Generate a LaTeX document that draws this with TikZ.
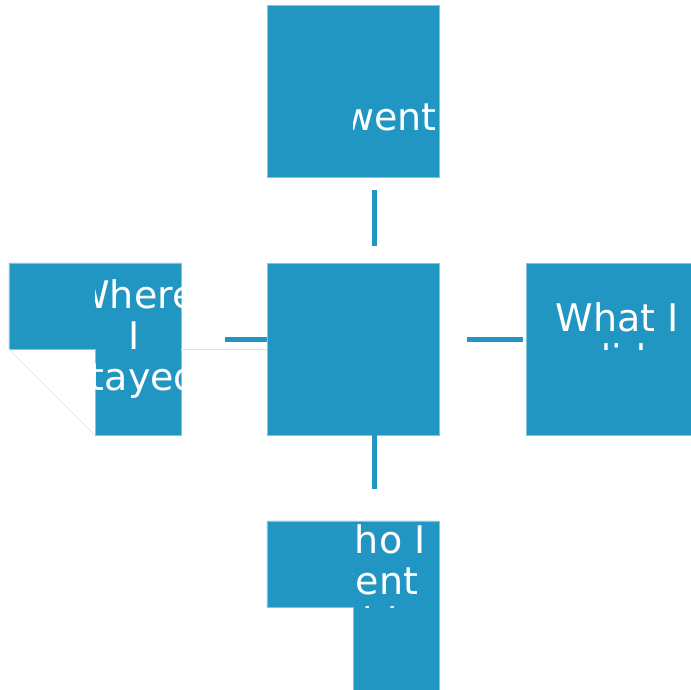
\documentclass[tikz,border=0pt]{standalone}
\usepackage{fontspec}
\setmainfont{DejaVu Sans}
\definecolor{boxblue}{RGB}{33,150,194}
\definecolor{edgeblue}{RGB}{130,196,222}
\definecolor{paleblue}{RGB}{205,230,240}

\begin{document}
\begin{tikzpicture}[x=1pt, y=-1pt,
		box/.style={rectangle, minimum size=172pt, inner sep=0pt},
		lbl/.style={text=white, align=center, inner sep=0pt, font=\fontsize{38}{41}\selectfont},
		link/.style={boxblue, line width=5pt}]
				\useasboundingbox (0,0) rectangle (691,690);
				\node[box, draw=edgeblue, fill=boxblue] (went)at(353, 91) {};
				\node[box, draw=edgeblue, fill=boxblue] (hub)at(353, 349) {};
				\node[box] (stay)at(95, 349) {};
				\node[box, draw=edgeblue, fill=boxblue] (did)at(612, 349) {};
				\node[box] (with)at(353, 607) {};
				\filldraw[fill=boxblue, draw=edgeblue, line width=0.6pt] (stay.north west) -- (stay.north east) -- (stay.south east) -- (stay.south) -- (stay.center) -- (stay.west) -- cycle;
				\filldraw[fill=boxblue, draw=edgeblue, line width=0.6pt] (with.north west) -- (with.north east) -- (with.south east) -- (with.south) -- (with.center) -- (with.west) -- cycle;
				\draw[paleblue, line width=0.6pt] (stay.west) -- (stay.south);
				\draw[paleblue, line width=0.6pt] (stay.east) -- (hub.west);
				\coordinate (t1)at(374, 190);
				\coordinate (t2)at(374, 246);
				\coordinate (b1)at(374, 435);
				\coordinate (b2)at(374, 489);
				\coordinate (l1)at(225, 339.5);
				\coordinate (l2)at(267, 339.5);
				\coordinate (r1)at(467, 339.5);
				\coordinate (r2)at(523, 339.5);
				\draw[link] (t1) -- (t2);
				\draw[link] (b1) -- (b2);
				\draw[link] (l1) -- (l2);
				\draw[link] (r1) -- (r2);
				\begin{scope}
					\clip (went.center) rectangle ([xshift=2pt]went.south east);
					\node[lbl] (wentT)at(390, 117.5) {went};
				\end{scope}
				\begin{scope}
					\clip (stay.north) rectangle (stay.south east);
					\node[lbl] (stayT)at(134, 339) {Where\\I\\stayed};
				\end{scope}
				\begin{scope}
					\clip (did.north west) rectangle (did.east);
					\node[lbl] (didT)at(617, 338) {What I\\did};
				\end{scope}
				\begin{scope}
					\clip (with.north) rectangle (with.east);
					\node[lbl] (withT)at(371.5, 580.5) {Who I\\went\\with};
				\end{scope}
			\end{tikzpicture}
\end{document}
